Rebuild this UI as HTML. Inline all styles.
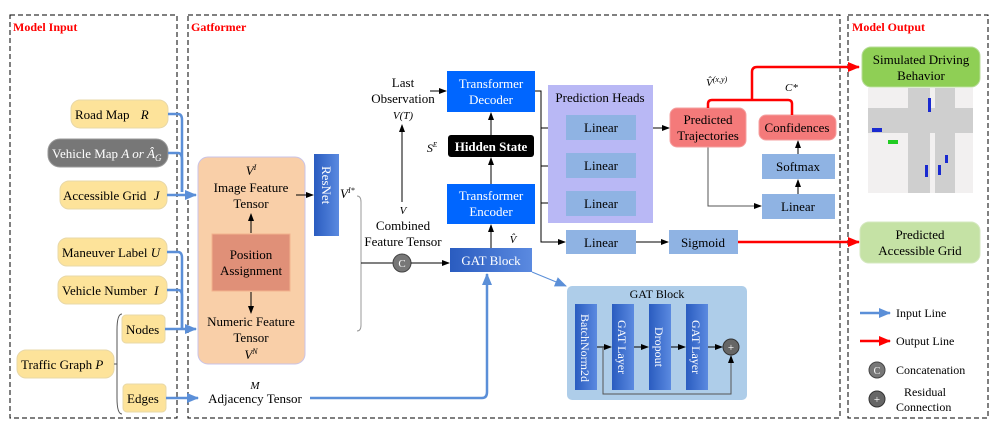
<!DOCTYPE html>
<html><head><style>body{margin:0;background:#fff}svg{display:block;font-family:"Liberation Serif",serif}</style></head><body>
<svg width="1004" height="431" viewBox="0 0 1004 431" xmlns="http://www.w3.org/2000/svg">
<defs>
<marker id="a" markerWidth="8" markerHeight="8" refX="7" refY="4" orient="auto" markerUnits="userSpaceOnUse"><path d="M0,1 L8,4 L0,7z" fill="#000"/></marker>
<marker id="b" markerWidth="12" markerHeight="12" refX="11" refY="6" orient="auto" markerUnits="userSpaceOnUse"><path d="M0,1 L12,6 L0,11z" fill="#5b8fd8"/></marker>
<marker id="r" markerWidth="12" markerHeight="12" refX="11" refY="6" orient="auto" markerUnits="userSpaceOnUse"><path d="M0,1 L12,6 L0,11z" fill="#f00"/></marker>
<linearGradient id="g" x1="0" x2="1"><stop offset="0" stop-color="#2a5cc0"/><stop offset="1" stop-color="#5b8ae0"/></linearGradient>
</defs>
<g fill="none" stroke="#000" stroke-dasharray="5,3">
<rect x="10" y="15" width="167" height="403"/><rect x="188" y="15" width="652" height="403"/><rect x="848" y="15" width="140" height="403"/></g>
<g font-weight="bold" fill="#f00" font-size="12"><text x="13" y="31">Model Input</text><text x="191" y="31">Gatformer</text><text x="852" y="31">Model Output</text></g>
<!-- inputs -->
<g stroke="#e8d8a8" fill="#fde39a">
<rect x="71" y="100" width="97" height="28" rx="9"/><rect x="60" y="181" width="107" height="28" rx="9"/><rect x="58" y="238" width="109" height="28" rx="9"/><rect x="58" y="276" width="109" height="28" rx="9"/><rect x="122" y="315" width="43" height="28" rx="4"/><rect x="17" y="350" width="97" height="28" rx="9"/><rect x="123" y="384" width="43" height="28" rx="4"/></g>
<rect x="48" y="139" width="120" height="28" rx="12" fill="#777" stroke="#999"/>
<g font-size="13" fill="#000">
<text x="75" y="119">Road Map <tspan font-style="italic" dx="8">R</tspan></text>
<text x="52" y="158" fill="#fff">Vehicle Map <tspan font-style="italic">A or Â</tspan><tspan font-style="italic" font-size="9" dy="3">G</tspan></text>
<text x="63" y="200">Accessible Grid <tspan font-style="italic" dx="4">J</tspan></text>
<text x="62" y="257">Maneuver Label <tspan font-style="italic">U</tspan></text>
<text x="62" y="295">Vehicle Number <tspan font-style="italic" dx="4">I</tspan></text>
<text x="126" y="334">Nodes</text>
<text x="21" y="369">Traffic Graph <tspan font-style="italic">P</tspan></text>
<text x="127" y="403">Edges</text></g>
<path d="M122,314 Q117,314 117,330 L117,398 Q117,414 122,414" fill="none" stroke="#555"/>
<line x1="114" y1="364" x2="117" y2="364" stroke="#555"/>
<g fill="none" stroke="#5b8fd8" stroke-width="2.5">
<path d="M168,114 H178 Q182,114 182,120 V192"/><path d="M168,153 H178 Q182,153 182,160 V192"/>
<path d="M167,195 H196" marker-end="url(#b)"/>
<path d="M167,252 H178 Q182,252 182,258 V329"/><path d="M167,290 H178 Q182,290 182,296 V329"/>
<path d="M165,329 H196" marker-end="url(#b)"/>
<path d="M166,398 H198" marker-end="url(#b)"/>
<path d="M310,398 H482 Q487,398 487,392 V274" marker-end="url(#b)"/>
</g>
<line x1="532" y1="272" x2="566" y2="286" stroke="#5b8fd8" stroke-width="1" marker-end="url(#b)"/>
<!-- orange -->
<rect x="198" y="157" width="107" height="207" rx="10" fill="#f9cfa8" stroke="#c9c3e8"/>
<rect x="212" y="234" width="78" height="57" fill="#e09078" stroke="#f2b38e"/>
<g font-size="13" text-anchor="middle">
<text x="251" y="175" font-style="italic">V<tspan font-size="8" dy="-5">I</tspan></text>
<text x="251" y="192">Image Feature</text><text x="251" y="208">Tensor</text>
<text x="251" y="259">Position</text><text x="251" y="275">Assignment</text>
<text x="251" y="326">Numeric Feature</text><text x="251" y="342">Tensor</text>
<text x="251" y="359" font-style="italic">V<tspan font-size="8" dy="-5">N</tspan></text>
<text x="255" y="403">Adjacency Tensor</text><text x="255" y="389" font-style="italic" font-size="11">M</text>
</g>
<g stroke="#000" fill="none"><line x1="251" y1="233" x2="251" y2="214" marker-end="url(#a)"/><line x1="251" y1="292" x2="251" y2="313" marker-end="url(#a)"/><line x1="296" y1="195" x2="313" y2="195" marker-end="url(#a)"/></g>
<rect x="314" y="154" width="25" height="82" fill="url(#g)"/>
<text transform="translate(322,166) rotate(90)" fill="#fff" font-size="13">ResNet</text>
<text x="340" y="198" font-style="italic" font-size="13">V<tspan font-size="8" dy="-5">I*</tspan></text>
<path d="M357,196 Q361,196 361,202 V325 Q361,331 357,331" fill="none" stroke="#999"/>
<line x1="361" y1="263" x2="393" y2="263" stroke="#000"/>
<circle cx="402" cy="263" r="9" fill="#777" stroke="#444"/><text x="402" y="267" fill="#fff" font-size="11" text-anchor="middle">C</text>
<line x1="411" y1="263" x2="449" y2="263" stroke="#000" marker-end="url(#a)"/>
<g font-size="13" text-anchor="middle"><text x="403" y="87">Last</text><text x="403" y="103">Observation</text>
<text x="403" y="119" font-style="italic" font-size="11">V(T)</text>
<text x="403" y="214" font-style="italic" font-size="11">V</text><text x="403" y="230">Combined</text><text x="403" y="246">Feature Tensor</text>
<text x="432" y="152" font-style="italic" font-size="12">S<tspan font-size="7" dy="-5">E</tspan></text>
<text x="513" y="243" font-style="italic" font-size="11">V̂</text></g>
<g stroke="#000" fill="none"><line x1="402" y1="202" x2="402" y2="125" marker-end="url(#a)"/><line x1="430" y1="91" x2="446" y2="91" marker-end="url(#a)"/>
<line x1="491" y1="248" x2="491" y2="225" marker-end="url(#a)"/><line x1="491" y1="184" x2="491" y2="158" marker-end="url(#a)"/><line x1="491" y1="135" x2="491" y2="113" marker-end="url(#a)"/>
<path d="M535,91 H541 V242 H565" marker-end="url(#a)"/><path d="M541,128 H565" marker-end="url(#a)"/><path d="M541,166 H565" marker-end="url(#a)"/><path d="M541,203 H565" marker-end="url(#a)"/>
<path d="M636,128 H669" marker-end="url(#a)"/><path d="M636,166 H643 V128"/><path d="M636,203 H643 V166"/>
<path d="M636,242 H668" marker-end="url(#a)"/>
<path d="M708,147 V206 H761" marker-end="url(#a)" stroke="#555"/>
<line x1="798" y1="194" x2="798" y2="180" marker-end="url(#a)"/><line x1="798" y1="154" x2="798" y2="141" marker-end="url(#a)"/>
</g>
<rect x="450" y="248" width="82" height="24" fill="url(#g)"/><text x="491" y="265" fill="#fff" font-size="13" text-anchor="middle">GAT Block</text>
<rect x="447" y="184" width="88" height="40" fill="#0066ff"/><text x="491" y="200" fill="#fff" font-size="13" text-anchor="middle">Transformer</text><text x="491" y="216" fill="#fff" font-size="13" text-anchor="middle">Encoder</text>
<rect x="448" y="135" width="86" height="22" rx="3" fill="#000"/><text x="491" y="151" fill="#fff" font-size="13" font-weight="bold" text-anchor="middle">Hidden State</text>
<rect x="447" y="71" width="88" height="41" fill="#0066ff"/><text x="491" y="88" fill="#fff" font-size="13" text-anchor="middle">Transformer</text><text x="491" y="104" fill="#fff" font-size="13" text-anchor="middle">Decoder</text>
<rect x="548" y="85" width="105" height="138" fill="#b9b8f5"/>
<text x="600" y="102" font-size="13" text-anchor="middle">Prediction Heads</text>
<g fill="#8fb3e3"><rect x="566" y="115" width="70" height="25"/><rect x="566" y="153" width="70" height="25"/><rect x="566" y="191" width="70" height="25"/><rect x="566" y="230" width="70" height="24"/><rect x="669" y="230" width="69" height="24"/><rect x="762" y="154" width="73" height="25"/><rect x="762" y="194" width="73" height="25"/></g>
<g font-size="13" text-anchor="middle"><text x="601" y="132">Linear</text><text x="601" y="170">Linear</text><text x="601" y="208">Linear</text><text x="601" y="247">Linear</text><text x="703" y="247">Sigmoid</text><text x="798" y="171">Softmax</text><text x="798" y="211">Linear</text></g>
<rect x="670" y="108" width="76" height="39" rx="7" fill="#f47a7a" stroke="#f4a0a0"/>
<text x="708" y="124" font-size="13" text-anchor="middle">Predicted</text><text x="708" y="140" font-size="13" text-anchor="middle">Trajectories</text>
<rect x="759" y="115" width="77" height="25" rx="7" fill="#f47a7a" stroke="#f4a0a0"/><text x="797" y="132" font-size="13" text-anchor="middle">Confidences</text>
<text x="706" y="86" font-size="11" font-style="italic">V̂<tspan font-size="8" dy="-4">(x,y)</tspan></text>
<text x="785" y="91" font-size="11" font-style="italic">C*</text>
<g fill="none" stroke="#f00" stroke-width="2.5"><path d="M708,108 V104 Q708,100 712,100 H788 Q792,100 792,104 V115"/><path d="M752,100 V72 Q752,67 757,67 H859" marker-end="url(#r)"/><path d="M738,242 H859" marker-end="url(#r)"/></g>
<!-- GAT detail -->
<rect x="567" y="286" width="180" height="114" rx="5" fill="#aecde9"/>
<text x="657" y="298" font-size="12" text-anchor="middle">GAT Block</text>
<g fill="url(#g)"><rect x="575" y="304" width="22" height="86"/><rect x="612" y="304" width="22" height="86"/><rect x="649" y="304" width="22" height="86"/><rect x="686" y="304" width="22" height="86"/></g>
<g fill="#fff" font-size="12"><text transform="translate(581,314) rotate(90)">BatchNorm2d</text><text transform="translate(618,320) rotate(90)">GAT Layer</text><text transform="translate(655,327) rotate(90)">Dropout</text><text transform="translate(692,320) rotate(90)">GAT Layer</text></g>
<g stroke="#000" fill="none"><line x1="597" y1="347" x2="611" y2="347" marker-end="url(#a)"/><line x1="634" y1="347" x2="648" y2="347" marker-end="url(#a)"/><line x1="671" y1="347" x2="685" y2="347" marker-end="url(#a)"/><line x1="708" y1="347" x2="722" y2="347" marker-end="url(#a)"/><path d="M603,347 V394 H731 V356" marker-end="url(#a)" stroke="#555"/></g>
<circle cx="731" cy="347" r="8" fill="#666" stroke="#333"/><text x="731" y="351" fill="#fff" font-size="11" text-anchor="middle">+</text>
<!-- outputs -->
<rect x="862" y="47" width="118" height="40" rx="9" fill="#8fcf55" stroke="#b8dc9a"/>
<text x="921" y="64" font-size="13" text-anchor="middle">Simulated Driving</text><text x="921" y="80" font-size="13" text-anchor="middle">Behavior</text>
<rect x="868" y="88" width="105" height="105" fill="#f2f0f0"/>
<g fill="#cfcfcf"><rect x="868" y="108" width="105" height="25"/><rect x="908" y="88" width="22" height="105"/><rect x="935" y="88" width="20" height="105"/></g>
<g fill="#1a2ad0"><rect x="928" y="98" width="3" height="14"/><rect x="872" y="128" width="10" height="4"/><rect x="925" y="165" width="3" height="12"/><rect x="945" y="155" width="3" height="8"/><rect x="938" y="165" width="3" height="10"/></g>
<rect x="888" y="140" width="10" height="4" fill="#2c2"/>
<rect x="860" y="222" width="120" height="41" rx="9" fill="#c5e2a5" stroke="#d5e8c0"/>
<text x="920" y="239" font-size="13" text-anchor="middle">Predicted</text><text x="920" y="255" font-size="13" text-anchor="middle">Accessible Grid</text>
<line x1="860" y1="313" x2="890" y2="313" stroke="#5b8fd8" stroke-width="2.5" marker-end="url(#b)"/>
<line x1="860" y1="341" x2="890" y2="341" stroke="#f00" stroke-width="2.5" marker-end="url(#r)"/>
<g font-size="12"><text x="896" y="317">Input Line</text><text x="896" y="345">Output Line</text><text x="896" y="374">Concatenation</text><text x="904" y="396">Residual</text><text x="896" y="411">Connection</text></g>
<circle cx="877" cy="370" r="8" fill="#777" stroke="#444"/><text x="877" y="374" fill="#fff" font-size="10" text-anchor="middle">C</text>
<circle cx="877" cy="399" r="8" fill="#666" stroke="#333"/><text x="877" y="403" fill="#fff" font-size="11" text-anchor="middle">+</text>
</svg></body></html>
